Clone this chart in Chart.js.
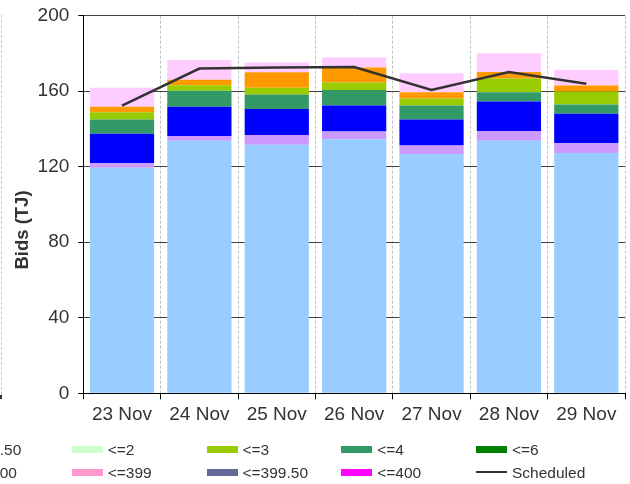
<!DOCTYPE html>
<html><head><meta charset="utf-8">
<script src="https://cdn.jsdelivr.net/npm/chart.js@4.4.0/dist/chart.umd.min.js"></script>
<style>
html,body{margin:0;padding:0;background:#fff;overflow:hidden;}
#wrap{position:relative;width:630px;height:484px;overflow:hidden;background:#fff;}
canvas{position:absolute;left:0;top:0;}
.lg{position:absolute;font-family:"Liberation Sans",Arial,sans-serif;font-size:15.5px;color:#333;white-space:nowrap;line-height:18px;}
.sw{position:absolute;width:31px;height:7px;}
</style></head><body>
<div id="wrap">
<canvas id="c" width="630" height="484"></canvas>
<div id="leg"></div>
<div style="position:absolute;left:1px;top:15px;height:380px;border-left:1px dashed #c8c8c8"></div>
<div style="position:absolute;left:0;top:395px;width:2px;height:4px;background:#333"></div>
</div>
<script>
const categories = ['23 Nov','24 Nov','25 Nov','26 Nov','27 Nov','28 Nov','29 Nov'];
const bandLightBlue = [119.4,133.7,131.7,134.6,126.8,133.8,127.3];
const bandLilac     = [2.4,2.6,5.1,4.0,4.4,5.1,5.2];
const bandBlue      = [15.7,15.5,13.8,13.8,13.8,15.6,15.6];
const bandSeaGreen  = [7.5,8.4,7.6,8.2,7.4,5.0,4.8];
const bandYellowGrn = [3.9,3.0,3.7,4.0,3.7,7.2,6.9];
const bandOrange    = [2.9,2.9,8.2,7.9,3.4,3.5,3.2];
const bandPink      = [10.1,10.5,5.1,5.3,10.0,9.9,8.3];
const scheduled     = [152.4,172.0,172.6,172.8,160.7,170.2,163.9];
const yTicks = [0,40,80,120,160,200];

const barNames  = ['<=0','<=1','<=1.50','<=4','<=3','<=10','<=800'];
const barColors = ['#99ccff','#cc99ff','#0000ff','#339966','#99cc00','#ff9900','#ffccff'];
const barData   = [bandLightBlue,bandLilac,bandBlue,bandSeaGreen,bandYellowGrn,bandOrange,bandPink];

const legendLabels = ['<=1.50','<=2','<=3','<=4','<=6','<=100','<=399','<=399.50','<=400','Scheduled'];
const legendColors = ['#0000ff','#ccffcc','#99cc00','#339966','#008000','#ff9900','#ff99cc','#666699','#ff00ff','#333333'];

const FONT = '"Liberation Sans", Arial, sans-serif';
const datasets = [{
  type:'line', label:'Scheduled', data:scheduled, borderColor:'#333333', borderWidth:2.5,
  pointRadius:0, fill:false, tension:0, order:0
}];
barData.forEach((d,i)=>datasets.push({
  type:'bar', label:barNames[i], data:d, backgroundColor:barColors[i], borderWidth:0, order:1,
  categoryPercentage:0.83, barPercentage:1.0
}));

const yTitle = {id:'yTitle', afterDraw(chart){
  const ctx = chart.ctx; ctx.save();
  ctx.translate(28,230); ctx.rotate(-Math.PI/2);
  ctx.font = 'bold 18.5px ' + FONT; ctx.fillStyle = '#333';
  ctx.textAlign = 'center'; ctx.textBaseline = 'alphabetic';
  ctx.fillText('Bids (TJ)',0,0); ctx.restore();
}};

new Chart(document.getElementById('c'), {
  data:{labels:categories, datasets},
  options:{
    responsive:false, animation:false,
    layout:{padding:{top:15.7,right:5,left:0,bottom:0}},
    plugins:{legend:{display:false}, tooltip:{enabled:false}},
    scales:{
      x:{stacked:true, offset:true,
        grid:{color:'#c0c0c0', offset:true, tickColor:'#000', tickLength:6, tickBorderDash:[]},
        border:{color:'#000', width:1, dash:[3,2]},
        ticks:{font:{size:19,family:FONT}, color:'#333', padding:4, maxRotation:0},
        afterFit(s){ s.height = 484-393.3; s.paddingLeft = 0; s.paddingRight = 0; }
      },
      y:{stacked:true, min:0, max:200,
        afterBuildTicks(s){ s.ticks = yTicks.map(v=>({value:v})); },
        grid:{color:'#404040', tickColor:'#000', tickLength:5},
        border:{color:'#000', width:1},
        ticks:{font:{size:19,family:FONT}, color:'#333', padding:9},
        afterFit(s){ s.width = 83.3; s.paddingTop = 0; s.paddingBottom = 0; }
      }
    }
  },
  plugins:[yTitle]
});

const leg = document.getElementById('leg');
legendLabels.forEach((lab,i)=>{
  const col = i%5, row = Math.floor(i/5);
  const sx = -63 + 134.75*col;
  const sw = document.createElement('div');
  sw.className = 'sw';
  sw.style.left = sx+'px';
  if (lab === 'Scheduled') { sw.style.top = '470.5px'; sw.style.height = '2px'; }
  else sw.style.top = (row ? 468.5 : 446)+'px';
  sw.style.background = legendColors[i];
  leg.appendChild(sw);
  const t = document.createElement('div');
  t.className = 'lg';
  t.style.left = (sx+36)+'px';
  t.style.top = (row ? 464 : 441)+'px';
  t.textContent = lab;
  leg.appendChild(t);
});
</script>
</body></html>
